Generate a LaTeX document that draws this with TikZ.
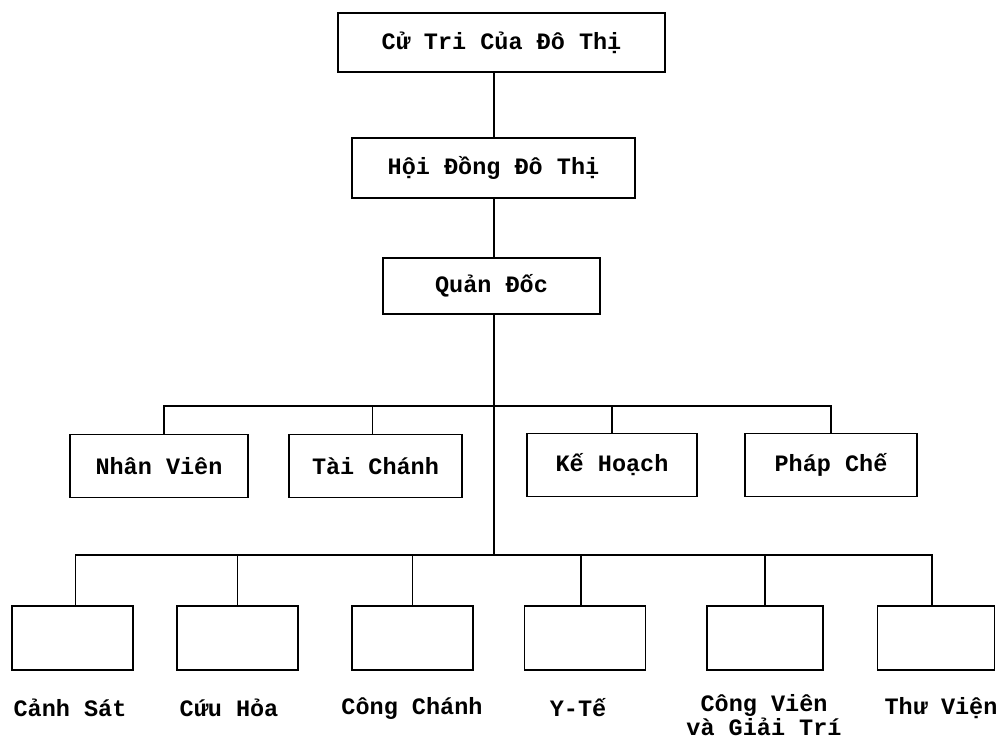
\documentclass[tikz,border=0pt]{standalone}
\usepackage{fontspec}
\setmainfont{Liberation Mono}
\begin{document}
\begin{tikzpicture}[x=1pt,y=-1pt,
  txt/.style={font=\fontsize{23.5}{23.5}\selectfont\bfseries},
  box/.style={draw, line width=1.1pt, inner sep=0pt, txt},
  midbox/.style={box, minimum height=63pt},
  botbox/.style={box, minimum width=121pt, minimum height=64pt},
  lbl/.style={inner sep=0pt, txt, align=center},
  conn/.style={line width=1.1pt}]
\useasboundingbox (0,0) rectangle (1000,740);
% top chain
\node[box, minimum width=327pt, minimum height=59pt] (ct) at (501.5,42.5) {Cử Tri Của Đô Thị\hspace{38pt}};
\node[box, minimum width=283pt, minimum height=60pt] (hd) at (493.5,168) {Hội Đồng Đô Thị};
\node[box, minimum width=217pt, minimum height=56pt] (qd) at (491.5,286) {Quản Đốc};
% middle row
\node[midbox, minimum width=178pt] (nv) at (159,466) {Nhân Viên};
\node[midbox, minimum width=173pt] (tc) at (375.5,466) {Tài Chánh};
\node[midbox, minimum width=170pt] (kh) at (612,465) {Kế Hoạch};
\node[midbox, minimum width=172pt] (pc) at (831,465) {Pháp Chế};
% bottom row
\node[botbox] (b1) at (72.5,638) {};
\node[botbox] (b2) at (237.5,638) {};
\node[botbox] (b3) at (412.5,638) {};
\node[botbox] (b4) at (585,638) {};
\node[botbox, minimum width=116pt] (b5) at (765,638) {};
\node[botbox, minimum width=117pt] (b6) at (936,638) {};
% labels
\node[lbl] (l1) at (70,708) {Cảnh Sát};
\node[lbl] (l2) at (229,708) {Cứu Hỏa};
\node[lbl] (l3) at (412,708) {Công Chánh};
\node[lbl] (l4) at (578,708) {Y-Tế};
\node[lbl] (l5) at (764,715) {Công Viên\\và Giải Trí};
\node[lbl] (l6) at (941,708) {Thư Viện};
% connectors
\coordinate (spine) at (494,0);
\coordinate (mbus) at (0,406);
\coordinate (bbus) at (0,555);
\draw[conn] (ct.south -| spine) -- (hd.north -| spine);
\draw[conn] (hd.south -| spine) -- (qd.north -| spine);
\draw[conn] (qd.south -| spine) -- (spine |- bbus);
\draw[conn] ([xshift=5pt]nv.north) -- ([xshift=5pt]nv.north |- mbus) -- (pc.north |- mbus) -- (pc.north);
\draw[conn] ([xshift=-3pt]tc.north) -- ([xshift=-3pt]tc.north |- mbus);
\draw[conn] (kh.north) -- (kh.north |- mbus);
\draw[conn] ([xshift=3pt]b1.north) -- ([xshift=3pt]b1.north |- bbus) -- ([xshift=-4pt]b6.north |- bbus) -- ([xshift=-4pt]b6.north);
\draw[conn] (b2.north) -- (b2.north |- bbus);
\draw[conn] (b3.north) -- (b3.north |- bbus);
\draw[conn] ([xshift=-4pt]b4.north) -- ([xshift=-4pt]b4.north |- bbus);
\draw[conn] (b5.north) -- (b5.north |- bbus);
\end{tikzpicture}
\end{document}
